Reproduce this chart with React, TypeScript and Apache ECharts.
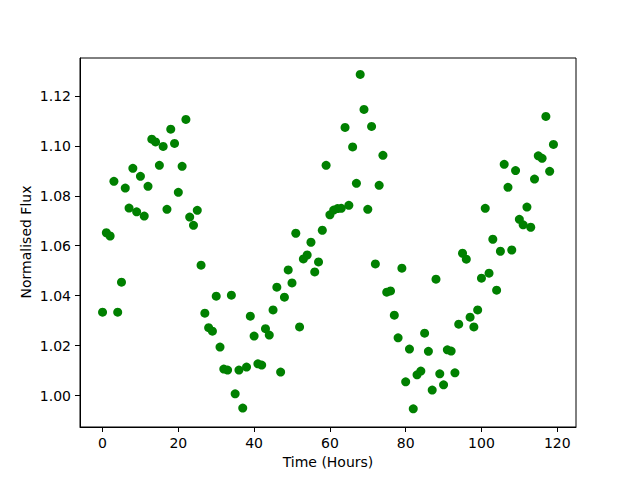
import React, { useEffect, useRef } from "react";
import * as echarts from "echarts";

const hours: number[] = [
  0, 1, 2, 3, 4, 5, 6, 7, 8, 9, 10, 11, 12, 13, 14, 15, 16, 17, 18, 19,
  20, 21, 22, 23, 24, 25, 26, 27, 28, 29, 30, 31, 32, 33, 34, 35, 36, 37, 38, 39,
  40, 41, 42, 43, 44, 45, 46, 47, 48, 49, 50, 51, 52, 53, 54, 55, 56, 57, 58, 59,
  60, 61, 62, 63, 64, 65, 66, 67, 68, 69, 70, 71, 72, 73, 74, 75, 76, 77, 78, 79,
  80, 81, 82, 83, 84, 85, 86, 87, 88, 89, 90, 91, 92, 93, 94, 95, 96, 97, 98, 99,
  100, 101, 102, 103, 104, 105, 106, 107, 108, 109, 110, 111, 112, 113, 114, 115, 116, 117, 118, 119,
];

const flux: number[] = [
  1.0334, 1.0652, 1.0639, 1.0858, 1.0334, 1.0454, 1.0831, 1.0751, 1.0910, 1.0736,
  1.0878, 1.0719, 1.0838, 1.1027, 1.1016, 1.0922, 1.0998, 1.0746, 1.1067, 1.1010,
  1.0814, 1.0918, 1.1106, 1.0715, 1.0682, 1.0742, 1.0522, 1.0330, 1.0272, 1.0258,
  1.0398, 1.0194, 1.0106, 1.0102, 1.0402, 1.0007, 1.0102, 0.9950, 1.0114, 1.0318,
  1.0238, 1.0127, 1.0122, 1.0268, 1.0242, 1.0343, 1.0434, 1.0094, 1.0394, 1.0503,
  1.0451, 1.0650, 1.0275, 1.0547, 1.0563, 1.0614, 1.0495, 1.0535, 1.0662, 1.0922,
  1.0724, 1.0743, 1.0749, 1.0750, 1.1074, 1.0762, 1.0996, 1.0850, 1.1286, 1.1146,
  1.0746, 1.1078, 1.0527, 1.0842, 1.0962, 1.0414, 1.0419, 1.0322, 1.0231, 1.0510,
  1.0055, 1.0186, 0.9947, 1.0083, 1.0098, 1.0250, 1.0177, 1.0022, 1.0466, 1.0087,
  1.0043, 1.0183, 1.0178, 1.0091, 1.0286, 1.0570, 1.0546, 1.0314, 1.0275, 1.0343,
  1.0470, 1.0750, 1.0490, 1.0626, 1.0422, 1.0578, 1.0926, 1.0834, 1.0583, 1.0901,
  1.0706, 1.0684, 1.0755, 1.0674, 1.0867, 1.0960, 1.0950, 1.1118, 1.0898, 1.1006,
];

const xTicks: number[] = [0, 20, 40, 60, 80, 100, 120];
const yTicks: number[] = [1.0, 1.02, 1.04, 1.06, 1.08, 1.1, 1.12];

const FONT = "DejaVu Sans";

export default function App() {
  const ref = useRef<HTMLDivElement>(null);
  useEffect(() => {
    if (!ref.current) return;
    const chart = echarts.init(ref.current, null, { renderer: "svg" });
    const points = hours.map((h, i) => [h, flux[i]]);
    chart.setOption({
      animation: false,
      backgroundColor: "#ffffff",
      grid: {
        left: 80,
        right: 64,
        top: 58,
        bottom: 53,
        show: true,
        borderColor: "#000000",
        borderWidth: 1,
        backgroundColor: "transparent",
      },
      graphic: [
        {
          type: "text",
          x: 26,
          y: 242,
          rotation: Math.PI / 2,
          style: {
            text: "Normalised Flux",
            fontFamily: FONT,
            fontSize: 14,
            fill: "#000",
            align: "center",
            verticalAlign: "middle",
          },
        },
      ],
      xAxis: {
        type: "value",
        min: -5.95,
        max: 124.95,
        name: "Time (Hours)",
        nameLocation: "middle",
        nameGap: 28,
        nameTextStyle: { fontFamily: FONT, fontSize: 14, color: "#000" },
        splitLine: { show: false },
        axisLine: { show: true, onZero: false, lineStyle: { color: "#000", width: 1 } },
        axisTick: {
          show: true,
          inside: false,
          length: 5,
          customValues: xTicks,
          lineStyle: { color: "#000", width: 1 },
        },
        axisLabel: {
          show: true,
          margin: 9,
          customValues: xTicks,
          fontFamily: FONT,
          fontSize: 14,
          color: "#000",
          formatter: (v: number) => String(v),
        },
      },
      yAxis: {
        type: "value",
        min: 0.9874,
        max: 1.1352,
        splitLine: { show: false },
        axisLine: { show: true, onZero: false, lineStyle: { color: "#000", width: 1 } },
        axisTick: {
          show: true,
          inside: false,
          length: 5,
          customValues: yTicks,
          lineStyle: { color: "#000", width: 1 },
        },
        axisLabel: {
          show: true,
          margin: 9,
          customValues: yTicks,
          fontFamily: FONT,
          fontSize: 14,
          color: "#000",
          formatter: (v: number) => v.toFixed(2),
        },
      },
      series: [
        {
          type: "scatter",
          data: points,
          symbol: "circle",
          symbolSize: 9,
          itemStyle: { color: "#008000", opacity: 1 },
        },
      ],
    });
    return () => chart.dispose();
  }, []);
  return <div ref={ref} style={{ width: 640, height: 480, position: "absolute", left: 0, top: 0 }} />;
}
